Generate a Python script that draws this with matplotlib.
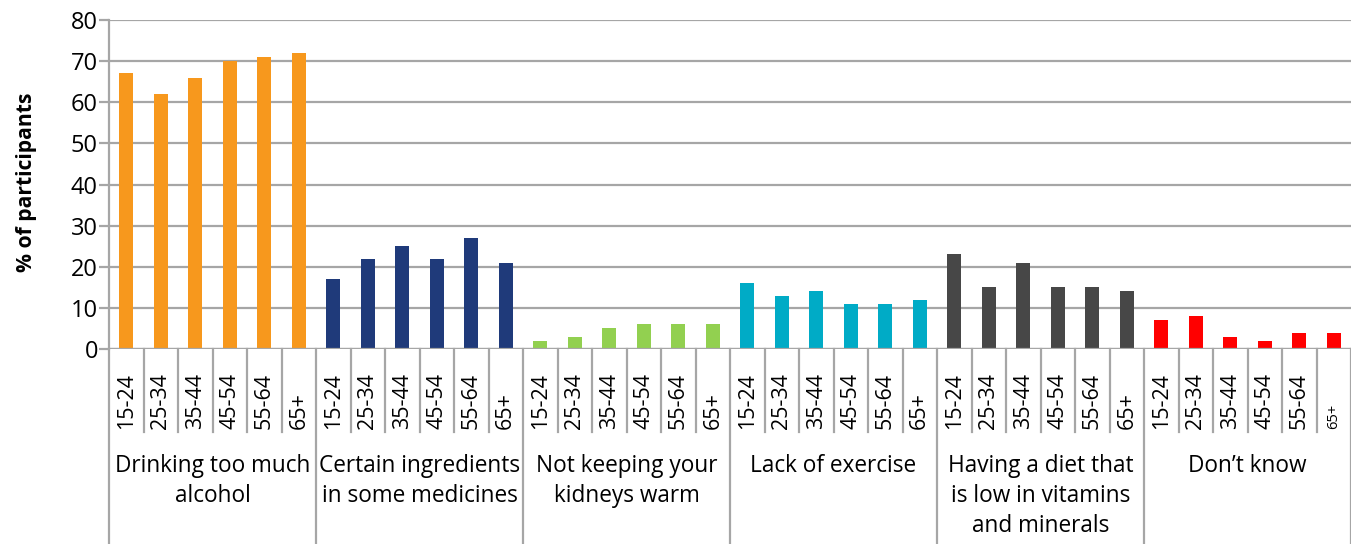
import matplotlib
matplotlib.use("Agg")
import matplotlib.pyplot as plt
import matplotlib.transforms as mtransforms

plt.rcParams['font.family'] = ['Open Sans', 'DejaVu Sans']

groups = ["Drinking too much\nalcohol", "Certain ingredients\nin some medicines",
          "Not keeping your\nkidneys warm", "Lack of exercise",
          "Having a diet that\nis low in vitamins\nand minerals", "Don\u2019t know"]
ages = ["15-24", "25-34", "35-44", "45-54", "55-64", "65+"]
drinking = [67, 62, 66, 70, 71, 72]
ingredients = [17, 22, 25, 22, 27, 21]
kidneys = [2, 3, 5, 6, 6, 6]
exercise = [16, 13, 14, 11, 11, 12]
diet = [23, 15, 21, 15, 15, 14]
dont_know = [7, 8, 3, 2, 4, 4]
series = [drinking, ingredients, kidneys, exercise, diet, dont_know]
colors = ["#F7981D", "#1F3A7A", "#92D050", "#00ABC6", "#474747", "#FF0000"]

W, H = 1351, 544
fig = plt.figure(figsize=(W / 100, H / 100), dpi=100)
x0, y0, x1, y1 = 109, 349, 1351, 20
ax = fig.add_axes([x0 / W, (H - y0) / H, (x1 - x0) / W, (y0 - y1) / H])

n = len(ages)
pos = 0
for gi, vals in enumerate(series):
    xs = list(range(pos, pos + len(vals)))
    ax.bar(xs, vals, width=0.4, color=colors[gi], zorder=3)
    pos += len(vals)
total = pos

ax.set_xlim(-0.5, total - 0.5)
ax.set_ylim(0, 80)
ax.set_yticks(range(0, 81, 10))
ax.yaxis.grid(True, color="#A6A6A6", linewidth=1.6, zorder=0)
ax.set_xticks([])
for s in ["top", "right", "bottom"]:
    ax.spines[s].set_visible(False)
ax.spines["left"].set_color("#A6A6A6")
ax.spines["left"].set_linewidth(1.6)
ax.tick_params(axis="y", length=7, width=1.6, color="#A6A6A6", labelsize=17, pad=1)
ax.axhline(0, color="#A6A6A6", linewidth=1.6, zorder=4)

px = 1.0 / (y0 - y1)  # axes fraction per pixel vertically
trans = mtransforms.blended_transform_factory(ax.transData, ax.transAxes)
for k in range(total + 1):
    xk = k - 0.5
    if k % n == 0:
        ybot = -(H - y0 + 5) * px
    else:
        ybot = -(432 - y0) * px
    ax.plot([xk, xk], [0, ybot], color="#A6A6A6", linewidth=1.6,
            transform=trans, clip_on=False)

for gi in range(len(series)):
    for ai, lab in enumerate(ages):
        xi = gi * n + ai
        fs = 15.5 if not (gi == len(series) - 1 and ai == n - 1) else 10.5
        ax.text(xi, -(429 - y0) * px, lab, rotation=90, ha="center", va="bottom",
                fontsize=fs, transform=trans)
    ax.text(gi * n + (n - 1) / 2, -(454 - y0) * px, groups[gi], ha="center", va="top",
            fontsize=16.3, linespacing=1.33, transform=trans)

fig.text(27 / W, 1 - 182 / H, "% of participants", rotation=90, ha="center", va="center",
         fontsize=15.2, fontweight="bold")

fig.savefig("out.png", dpi=100)
